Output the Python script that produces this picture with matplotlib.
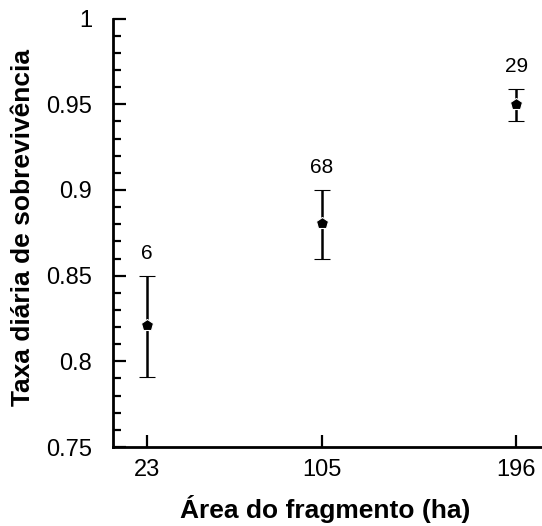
import matplotlib
matplotlib.use('Agg')
import matplotlib.pyplot as plt
from matplotlib.ticker import MultipleLocator
import numpy as np

# dados
areas = [23, 105, 196]
taxa = [0.821, 0.881, 0.950]
limite_inf = [0.791, 0.860, 0.940]
limite_sup = [0.850, 0.900, 0.959]
n_ninhos = ['6', '68', '29']

plt.rcParams['font.family'] = ['Liberation Sans', 'DejaVu Sans']

fig = plt.figure(figsize=(5.42, 5.26), dpi=100)
ax = fig.add_axes([113 / 542, 1 - 447 / 526, 1 - 113 / 542, (447 - 18.6) / 526])

taxa = np.array(taxa)
yerr = [taxa - np.array(limite_inf), np.array(limite_sup) - taxa]
ax.errorbar(areas, taxa, yerr=yerr, fmt='p', color='black', ecolor='black',
            markersize=9, markeredgecolor='white', markeredgewidth=0.8,
            elinewidth=1.8, capsize=5.5, capthick=1.8, zorder=3)

for x, ys, txt in zip(areas, limite_sup, n_ninhos):
    ax.annotate(txt, (x, ys), xytext=(0, 9), textcoords='offset points',
                ha='center', va='bottom', fontsize=15)

ax.set_xlim(7.3, 208)
ax.set_ylim(0.75, 1.0)
ax.set_xticks(areas)
ax.set_xticklabels([str(a) for a in areas])
ax.yaxis.set_major_locator(MultipleLocator(0.05))
ax.yaxis.set_minor_locator(MultipleLocator(0.01))
ax.set_yticks([0.75, 0.8, 0.85, 0.9, 0.95, 1.0])
ax.set_yticklabels(['0.75', '0.8', '0.85', '0.9', '0.95', '1'])

ax.spines['right'].set_visible(False)
ax.spines['top'].set_visible(False)
ax.spines['left'].set_linewidth(2)
ax.spines['bottom'].set_linewidth(2)

ax.tick_params(axis='y', which='major', direction='in', length=9, width=1.6,
               pad=15, labelsize=17)
ax.tick_params(axis='y', which='minor', direction='in', length=5.5, width=1.6)
ax.tick_params(axis='x', which='major', direction='in', length=9, width=1.6,
               pad=9, labelsize=17)

fig.text(23 / 542, 1 - 227 / 526, 'Taxa diária de sobrevivência', rotation=90,
         ha='center', va='center', fontsize=19, fontweight='bold')
fig.text(325.5 / 542, 1 - 509 / 526, 'Área do fragmento (ha)',
         ha='center', va='center', fontsize=19, fontweight='bold')

plt.savefig('out.png', dpi=100)
